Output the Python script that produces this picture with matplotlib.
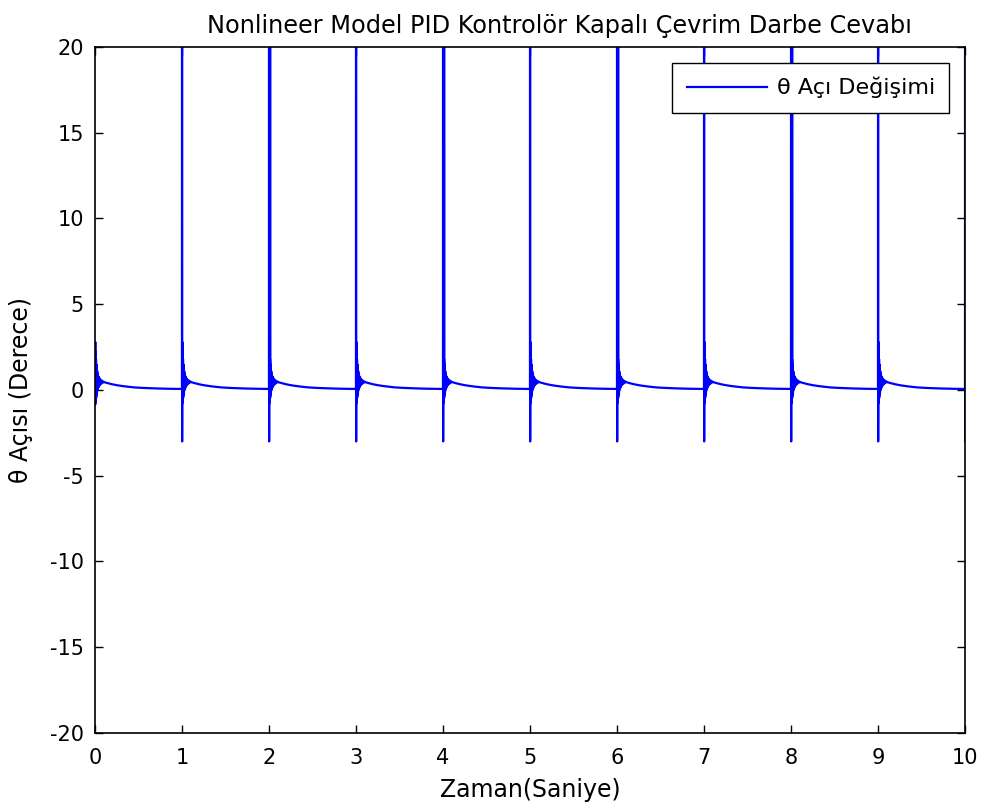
import matplotlib
matplotlib.use("Agg")
import matplotlib.pyplot as plt
import numpy as np

plt.rcParams['font.family'] = ['DejaVu Sans']
plt.rcParams['axes.unicode_minus'] = False

# pulse start times (s)
pulse_times = [0, 1, 2, 3, 4, 5, 6, 7, 8, 9, 10]
# first spike peak / low per pulse (deg), t=0 has no big spike
pulse_peak = [1.45, 60, 60, 60, 60, 60, 60, 60, 60, 60, 60]
pulse_low = [-0.87, -3.0, -3.0, -3.0, -3.0, -3.0, -3.0, -3.0, -3.0, -3.0, -3.0]
# pulses whose spike looks thicker in the reference
pulse_double = [0, 0, 1, 0, 1, 0, 1, 0, 1, 0, 1]

# ringing after the spike: time offset (s) and angle (deg)
ring_dt = [0.004, 0.006, 0.008, 0.010, 0.012, 0.014, 0.016, 0.018, 0.020, 0.023,
           0.026, 0.029, 0.032, 0.036, 0.040, 0.045, 0.050, 0.056, 0.062, 0.070,
           0.078, 0.086, 0.095]
ring_val = [2.8, -0.76, 2.2, -0.6, 1.8, -0.45, 1.5, -0.3, 1.3, -0.15,
            1.1, 0.0, 0.95, 0.1, 0.8, 0.2, 0.7, 0.28, 0.6, 0.35,
            0.55, 0.4, 0.5]
# slow decay after ringing
tail_dt = [0.11, 0.13, 0.16, 0.20, 0.25, 0.30, 0.36, 0.45, 0.55, 0.70, 0.85, 0.99]
tail_val = [0.45, 0.42, 0.38, 0.33, 0.28, 0.24, 0.2, 0.15, 0.12, 0.09, 0.07, 0.06]

t_all = []
y_all = []
for tp, pk, lo, dbl in zip(pulse_times, pulse_peak, pulse_low, pulse_double):
    t_all += [tp, tp + 0.001, tp + 0.002]
    y_all += [0.06, pk, lo]
    if dbl:
        t_all += [tp + 0.015, tp + 0.016]
        y_all += [pk, 0.6]
    for dt, v in zip(ring_dt + tail_dt, ring_val + tail_val):
        if tp + dt <= 10.0:
            t_all.append(tp + dt)
            y_all.append(v)

fig = plt.figure(figsize=(9.83, 8.10), dpi=100)
ax = fig.add_axes([0.0966, 0.0951, 0.8851, 0.8469])
ax.plot(t_all, y_all, color='#0000ff', linewidth=1.6, label='θ Açı Değişimi')

ax.set_xlim(0, 10)
ax.set_ylim(-20, 20)
ax.set_xticks(range(0, 11))
ax.set_yticks(range(-20, 21, 5))
ax.tick_params(direction='in', top=True, right=True, labelsize=15, length=6, width=1)
ax.tick_params(axis='x', pad=11)
ax.tick_params(axis='y', pad=8)
for s in ax.spines.values():
    s.set_linewidth(1.2)

ax.set_title('Nonlineer Model PID Kontrolör Kapalı Çevrim Darbe Cevabı', fontsize=17.3,
             pad=10, x=0.534)
ax.set_xlabel('Zaman(Saniye)', fontsize=17, labelpad=7)
ax.set_ylabel('θ Açısı (Derece)', fontsize=17, labelpad=12)

leg = ax.legend(loc='upper right', fontsize=16, fancybox=False, framealpha=1,
                edgecolor='black', borderaxespad=0.7, handlelength=3.6,
                borderpad=0.65, handletextpad=0.45)
leg.get_frame().set_linewidth(1.0)

fig.savefig('out.png', dpi=100)
